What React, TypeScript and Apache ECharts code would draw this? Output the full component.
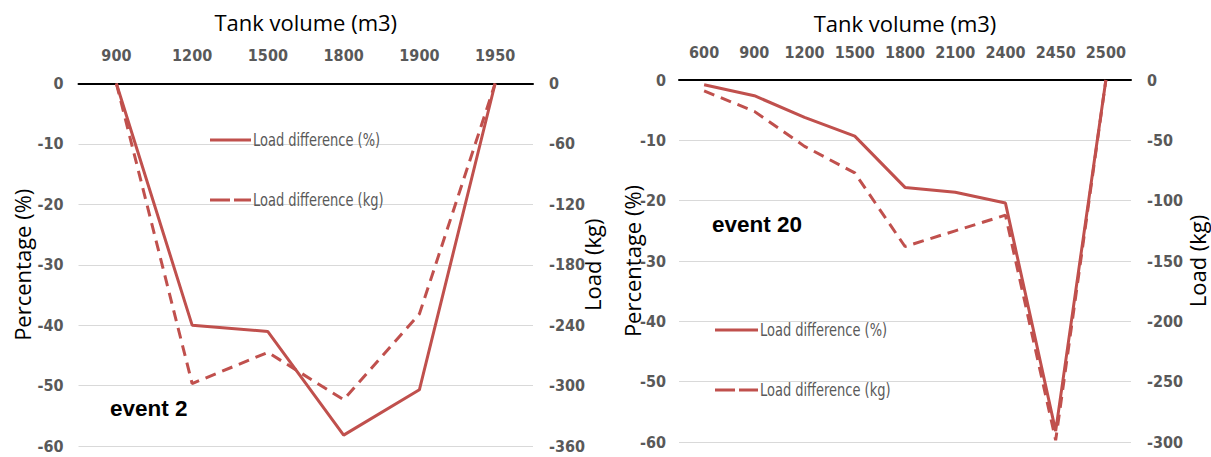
import React, { useEffect, useRef } from "react";
import * as echarts from "echarts";

const leftCategories = ["900", "1200", "1500", "1800", "1900", "1950"];
const leftPercent = [0, -40, -41.05, -58.2, -50.7, 0];
const leftKg = [0, -298, -267, -314, -229, 0];

const rightCategories = ["600", "900", "1200", "1500", "1800", "2100", "2400", "2450", "2500"];
const rightPercent = [-0.8, -2.6, -6.2, -9.3, -17.8, -18.6, -20.4, -58.2, 0];
const rightKg = [-9, -26, -55, -77, -138, -125, -112, -298.5, 0];

const leftPctTicks = { min: -60, max: 0, interval: 10 };
const leftKgTicks = { min: -360, max: 0, interval: 60 };
const rightPctTicks = { min: -60, max: 0, interval: 10 };
const rightKgTicks = { min: -300, max: 0, interval: 50 };

const NAME_PCT = "Load difference (%)";
const NAME_KG = "Load difference (kg)";

const RED = "#C0504D";
const GRAY = "#595959";
const TICK_FONT = "'Liberation Sans Narrow', 'DejaVu Sans Condensed', sans-serif";
const NAME_FONT = "'Open Sans', Lato, sans-serif";
const DASH = [11, 7];
const LEGEND_DASH = [20, 4];

export default function App() {
  const ref = useRef<HTMLDivElement>(null);
  useEffect(() => {
    if (!ref.current) return;
    const chart = echarts.init(ref.current, undefined, { renderer: "svg" });

    const tickLabel = { color: GRAY, fontSize: 16, fontFamily: TICK_FONT, fontWeight: "bold" as const };
    const nameStyle = { color: "#000", fontSize: 22, fontFamily: NAME_FONT };

    const xAxisBase = (data: string[], gridIndex: number, gap: number) => ({
      type: "category" as const,
      gridIndex,
      data,
      position: "top" as const,
      boundaryGap: true,
      name: "Tank volume (m3)",
      nameLocation: "middle" as const,
      nameGap: gap,
      nameMoveOverlap: false,
      nameTextStyle: nameStyle,
      axisLine: { show: true, lineStyle: { color: "#000", width: 2 } },
      axisTick: { show: false },
      axisLabel: { ...tickLabel, margin: 20, interval: 0 },
      splitLine: { show: false },
    });

    const yAxisBase = (
      ticks: { min: number; max: number; interval: number },
      gridIndex: number,
      position: "left" | "right",
      name: string,
      gap: number,
      margin: number,
      showSplit: boolean
    ) => ({
      type: "value" as const,
      gridIndex,
      position,
      min: ticks.min,
      max: ticks.max,
      interval: ticks.interval,
      name,
      nameLocation: "middle" as const,
      nameRotate: 90,
      nameGap: gap,
      nameMoveOverlap: false,
      nameTextStyle: nameStyle,
      axisLine: { show: false },
      axisTick: { show: false },
      axisLabel: { ...tickLabel, margin },
      splitLine: { show: showSplit, lineStyle: { color: "#D9D9D9", width: 1 } },
    });

    const lineSeries = (
      name: string,
      data: number[],
      xAxisIndex: number,
      yAxisIndex: number,
      dashed: boolean
    ) => ({
      type: "line" as const,
      name,
      data,
      xAxisIndex,
      yAxisIndex,
      symbol: "none",
      showSymbol: false,
      lineStyle: { color: RED, width: 3, type: dashed ? DASH : "solid" },
      itemStyle: { color: RED },
      z: dashed ? 2 : 3,
    });

    const legendItem = (x: number, y: number, w: number, name: string, dashed: boolean) => [
      {
        type: "line",
        shape: { x1: x, y1: y, x2: x + w, y2: y },
        style: { stroke: RED, lineWidth: 3, lineDash: dashed ? LEGEND_DASH : null },
        z: 10,
      },
      {
        type: "text",
        x: x + w + 2,
        y,
        scaleX: 0.85,
        style: {
          text: name,
          fill: GRAY,
          font: "17px 'DejaVu Sans Condensed', sans-serif",
          textVerticalAlign: "middle",
          verticalAlign: "middle",
        },
        z: 10,
      },
    ];

    chart.setOption({
      animation: false,
      grid: [
        { left: 78.5, top: 83.5, width: 454.5, height: 362.5 },
        { left: 679, top: 80, width: 452, height: 362 },
      ],
      xAxis: [xAxisBase(leftCategories, 0, 50.5), xAxisBase(rightCategories, 1, 46.5)],
      yAxis: [
        yAxisBase(leftPctTicks, 0, "left", "Percentage (%)", 46, 15, true),
        yAxisBase(leftKgTicks, 0, "right", "Load (kg)", 47.5, 16, false),
        yAxisBase(rightPctTicks, 1, "left", "Percentage (%)", 36.5, 13, true),
        yAxisBase(rightKgTicks, 1, "right", "Load (kg)", 54.5, 16, false),
      ],
      series: [
        lineSeries(NAME_PCT, leftPercent, 0, 0, false),
        lineSeries(NAME_KG, leftKg, 0, 1, true),
        lineSeries(NAME_PCT, rightPercent, 1, 2, false),
        lineSeries(NAME_KG, rightKg, 1, 3, true),
      ],
      graphic: [
        ...legendItem(210, 140, 41, NAME_PCT, false),
        ...legendItem(210, 200, 41, NAME_KG, true),
        ...legendItem(715, 330, 43, NAME_PCT, false),
        ...legendItem(715, 390, 43, NAME_KG, true),
        {
          type: "text",
          left: 110,
          top: 397,
          style: { text: "event 2", fill: "#000", font: "bold 22.5px 'Liberation Sans', sans-serif" },
        },
        {
          type: "text",
          left: 712,
          top: 213,
          style: { text: "event 20", fill: "#000", font: "bold 22.5px 'Liberation Sans', sans-serif" },
        },
      ],
    });

    return () => chart.dispose();
  }, []);

  return (
    <div
      ref={ref}
      style={{ position: "absolute", left: 0, top: 0, width: 1211, height: 457, background: "#fff" }}
    />
  );
}
